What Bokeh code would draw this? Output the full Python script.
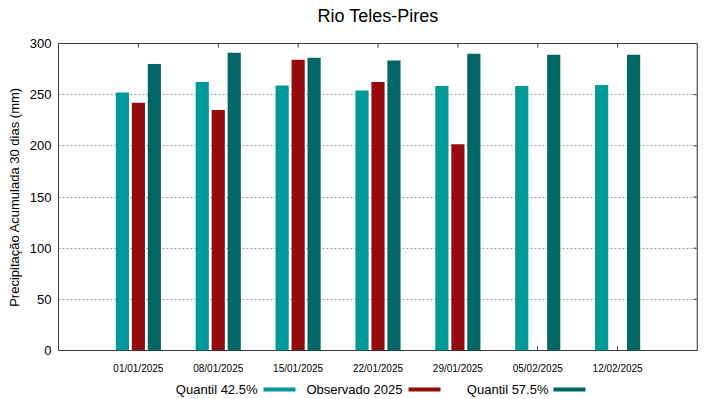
import numpy as np
from bokeh.plotting import figure
from bokeh.models import Range1d, FixedTicker, Span
from bokeh.layouts import column
from bokeh.core.properties import value
from bokeh.embed import file_html
from bokeh.resources import INLINE

# ---- data ----
title_text = "Rio Teles-Pires"
dates = ["01/01/2025", "08/01/2025", "15/01/2025", "22/01/2025",
         "29/01/2025", "05/02/2025", "12/02/2025"]
quantil_425 = [252, 262.5, 259, 254, 258.5, 258.5, 259.5]
observado_2025 = [242, 235, 284, 262.5, 201.5]
quantil_575 = [280, 291, 286, 283.5, 290, 289, 289]
y_ticks = [0, 50, 100, 150, 200, 250, 300]
legend_labels = ["Quantil 42.5%", "Observado 2025", "Quantil 57.5%"]
colors = ["#009999", "#960c0e", "#006666"]

FONT = "Liberation Sans"

xs = np.arange(1, len(dates) + 1)
x_end = len(dates) + 1
y_end = y_ticks[-1]

W = 719
frame_w, frame_h = 639, 307


def strip(height):
    f = figure(width=W, height=height, x_range=Range1d(0, frame_w), y_range=Range1d(0, height),
               output_backend="svg", toolbar_location=None,
               x_axis_location=None, y_axis_location=None, min_border=0)
    f.grid.grid_line_color = None
    f.outline_line_color = None
    f.background_fill_color = "white"
    f.border_fill_color = "white"
    return f


# ---- title strip (x in pixels from the frame's left edge; frames align in the column) ----
tf = strip(30)
tf.text(x=[frame_w / 2], y=[15], text=[title_text], text_align="center",
        text_baseline="middle", text_font=value(FONT), text_font_size="18px",
        text_color="black")

# ---- main chart ----
p = figure(width=W, height=348, x_range=Range1d(0, x_end),
           y_range=Range1d(0, y_end), output_backend="svg",
           toolbar_location=None,
           min_border_left=58, min_border_right=22,
           min_border_top=13, min_border_bottom=28)

p.outline_line_color = "#3a3a3a"
p.outline_line_width = 1
p.background_fill_color = "white"
p.border_fill_color = "white"

# bottom axis
p.xaxis.ticker = FixedTicker(ticks=list(xs))
p.xaxis.major_label_overrides = {int(i): d for i, d in zip(xs, dates)}
p.xaxis.major_tick_in = 4
p.xaxis.major_tick_out = 0
p.xaxis.major_tick_line_color = "#3a3a3a"
p.xaxis.minor_tick_line_color = None
p.xaxis.axis_line_color = None
p.xaxis.major_label_text_font = FONT
p.xaxis.major_label_text_font_size = "10px"
p.xaxis.major_label_text_color = "black"
p.xaxis.major_label_standoff = 12

# left axis
p.yaxis.ticker = FixedTicker(ticks=y_ticks)
p.yaxis.major_tick_in = 0
p.yaxis.major_tick_out = 0
p.yaxis.minor_tick_line_color = None
p.yaxis.axis_line_color = None
p.yaxis.major_label_text_font = FONT
p.yaxis.major_label_text_font_size = "13px"
p.yaxis.major_label_text_color = "black"
p.yaxis.major_label_standoff = 7
p.yaxis.axis_label = "Precipitação Acumulada 30 dias (mm)"
p.yaxis.axis_label_text_font = FONT
p.yaxis.axis_label_text_font_size = "13px"
p.yaxis.axis_label_text_font_style = "normal"
p.yaxis.axis_label_text_color = "black"
p.yaxis.axis_label_standoff = 5

p.xgrid.grid_line_color = None
p.ygrid.ticker = FixedTicker(ticks=y_ticks[1:-1])
p.ygrid.grid_line_color = "#9a9a9a"
p.ygrid.grid_line_dash = "2 2"
p.ygrid.grid_line_width = 1

# gray right border
p.add_layout(Span(location=x_end, dimension="height", line_color="#8a8a8a", line_width=2))

# mirror ticks on top and right (4 px long, inward)
top_len = 4 * y_end / frame_h
right_len = 4 * x_end / frame_w
p.segment(x0=xs, y0=[y_end] * len(xs), x1=xs, y1=[y_end - top_len] * len(xs),
          line_color="#3a3a3a", line_width=1)
p.segment(x0=[x_end] * (len(y_ticks) - 2), y0=y_ticks[1:-1],
          x1=[x_end - right_len] * (len(y_ticks) - 2), y1=y_ticks[1:-1],
          line_color="#3a3a3a", line_width=1)

bw = 0.165
p.vbar(x=xs - 0.2, top=quantil_425, width=bw, fill_color=colors[0], line_color=None)
p.vbar(x=xs[:len(observado_2025)], top=observado_2025, width=bw, fill_color=colors[1], line_color=None)
p.vbar(x=xs + 0.2, top=quantil_575, width=bw, fill_color=colors[2], line_color=None)

# ---- legend strip (text followed by sample, gnuplot style) ----
lg = strip(21)
lg.text(x=[199, 344, 490], y=[10, 10, 10], text=legend_labels,
        text_align="right", text_baseline="middle",
        text_font=value(FONT), text_font_size="13px", text_color="black")
lg.rect(x=[221, 366, 511], y=[10, 10, 10], width=32, height=4,
        fill_color=colors, line_color=None)

layout = column(tf, p, lg, spacing=0)
open("out.html", "w").write(file_html(layout, INLINE))
